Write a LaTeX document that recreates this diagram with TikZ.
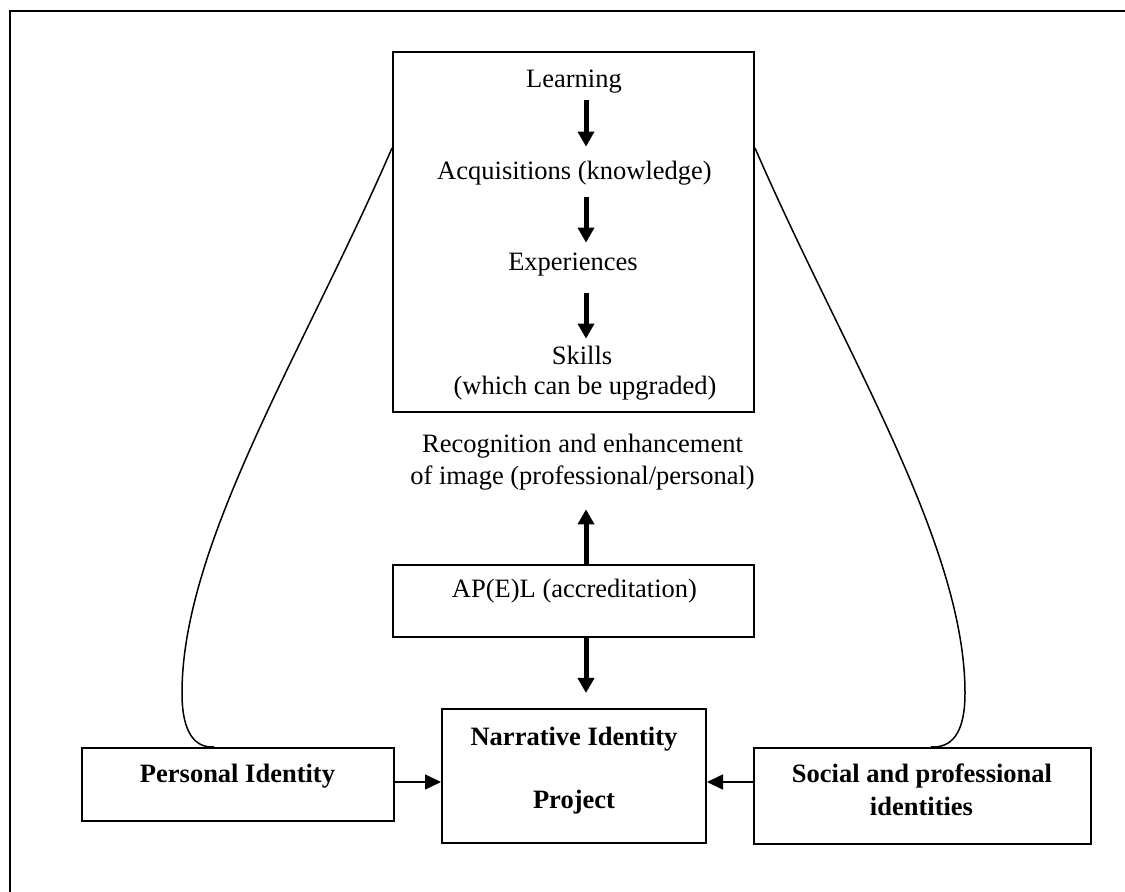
\documentclass[tikz,border=0pt]{standalone}
\usepackage{fontspec}
\setmainfont{Liberation Serif}
\usetikzlibrary{arrows.meta,calc}
\begin{document}
\begin{tikzpicture}[x=0.5pt,y=-0.5pt,
  txt/.style={inner sep=0pt, text height=9pt, text depth=3pt, anchor=base, font=\fontsize{13.25pt}{16pt}\selectfont},
  btxt/.style={txt, font=\fontsize{13.25pt}{16pt}\selectfont\bfseries},
  box/.style={draw, line width=1pt, inner sep=0pt},
  bigarrow/.style={line width=2.5pt, -{Triangle[length=7.5pt,width=8pt]}},
  smallarrow/.style={line width=0.8pt, -{Triangle[length=8pt,width=7.5pt]}},
  link/.style={line width=0.75pt}]
\useasboundingbox (0,0) rectangle (1125,892);
\draw[line width=1.2pt] (10,892) |- (1125,11);

% boxes
\node[box, minimum width=180.5pt, minimum height=180pt] (topbox) at (573.5,232) {};
\node[box, minimum width=180.5pt, minimum height=36pt] (ap) at (573.5,601) {};
\node[box, minimum width=132pt, minimum height=67pt] (narr) at (574,776) {};
\node[box, minimum width=156pt, minimum height=36.5pt] (pers) at (238,784.5) {};
\node[box, minimum width=168.5pt, minimum height=48pt] (soc) at (922.5,796) {};

% texts
\node[txt] (learn) at (574,87.5) {Learning};
\node[txt] (acq) at (574.5,180) {Acquisitions (knowledge)};
\node[txt] (exp) at (573,271) {Experiences};
\node[txt] (skills) at (582,365) {Skills};
\node[txt] (upg) at (585,395) {(which can be upgraded)};
\node[txt] (rec1) at (582.5,453) {Recognition and enhancement};
\node[txt] (rec2) at (582.5,485) {of image (professional/personal)};
\node[txt] (aptxt) at (574.5,598) {AP(E)L (accreditation)};
\node[btxt] (narr1) at (574,746) {Narrative Identity};
\node[btxt] (narr2) at (574,808) {Project};
\node[btxt] (perstxt) at (237.5,783) {Personal Identity};
\node[btxt] (soc1) at (922,783) {Social and professional};
\node[btxt] (soc2) at (921.5,815) {identities};

% arrows
\coordinate (ax) at (586,0);
\draw[bigarrow, shorten <=3.25pt, shorten >=7.5pt] (learn.south -| ax) -- (acq.north -| ax);
\draw[bigarrow, shorten <=5.5pt, shorten >=5pt] (acq.south -| ax) -- (exp.north -| ax);
\draw[bigarrow, shorten <=8pt, shorten >=4pt] (exp.south -| ax) -- (skills.north -| ax);
\draw[bigarrow, shorten >=9pt] (ap.north -| ax) -- (rec2.south -| ax);
\draw[bigarrow, shorten >=7.5pt] (ap.south -| ax) -- (narr.north -| ax);
\draw[smallarrow] ([yshift=1.25pt]pers.east) -- ([yshift=1.25pt]pers.east -| narr.west);
\draw[smallarrow] ([yshift=7pt]soc.west) -- ([yshift=7pt]soc.west -| narr.east);

% links
\draw[link] ($(topbox.north west)+(0,97)$) .. controls (305,349) and (182,543) .. (182,693)
  .. controls (182,733) and (195,748) .. ($(pers.north west)+(133,0)$);
\draw[link] ($(topbox.north east)+(0,97)$) .. controls (842,349) and (965,543) .. (965,693)
  .. controls (965,733) and (952,748) .. ($(soc.north west)+(178,0)$);
\end{tikzpicture}
\end{document}
